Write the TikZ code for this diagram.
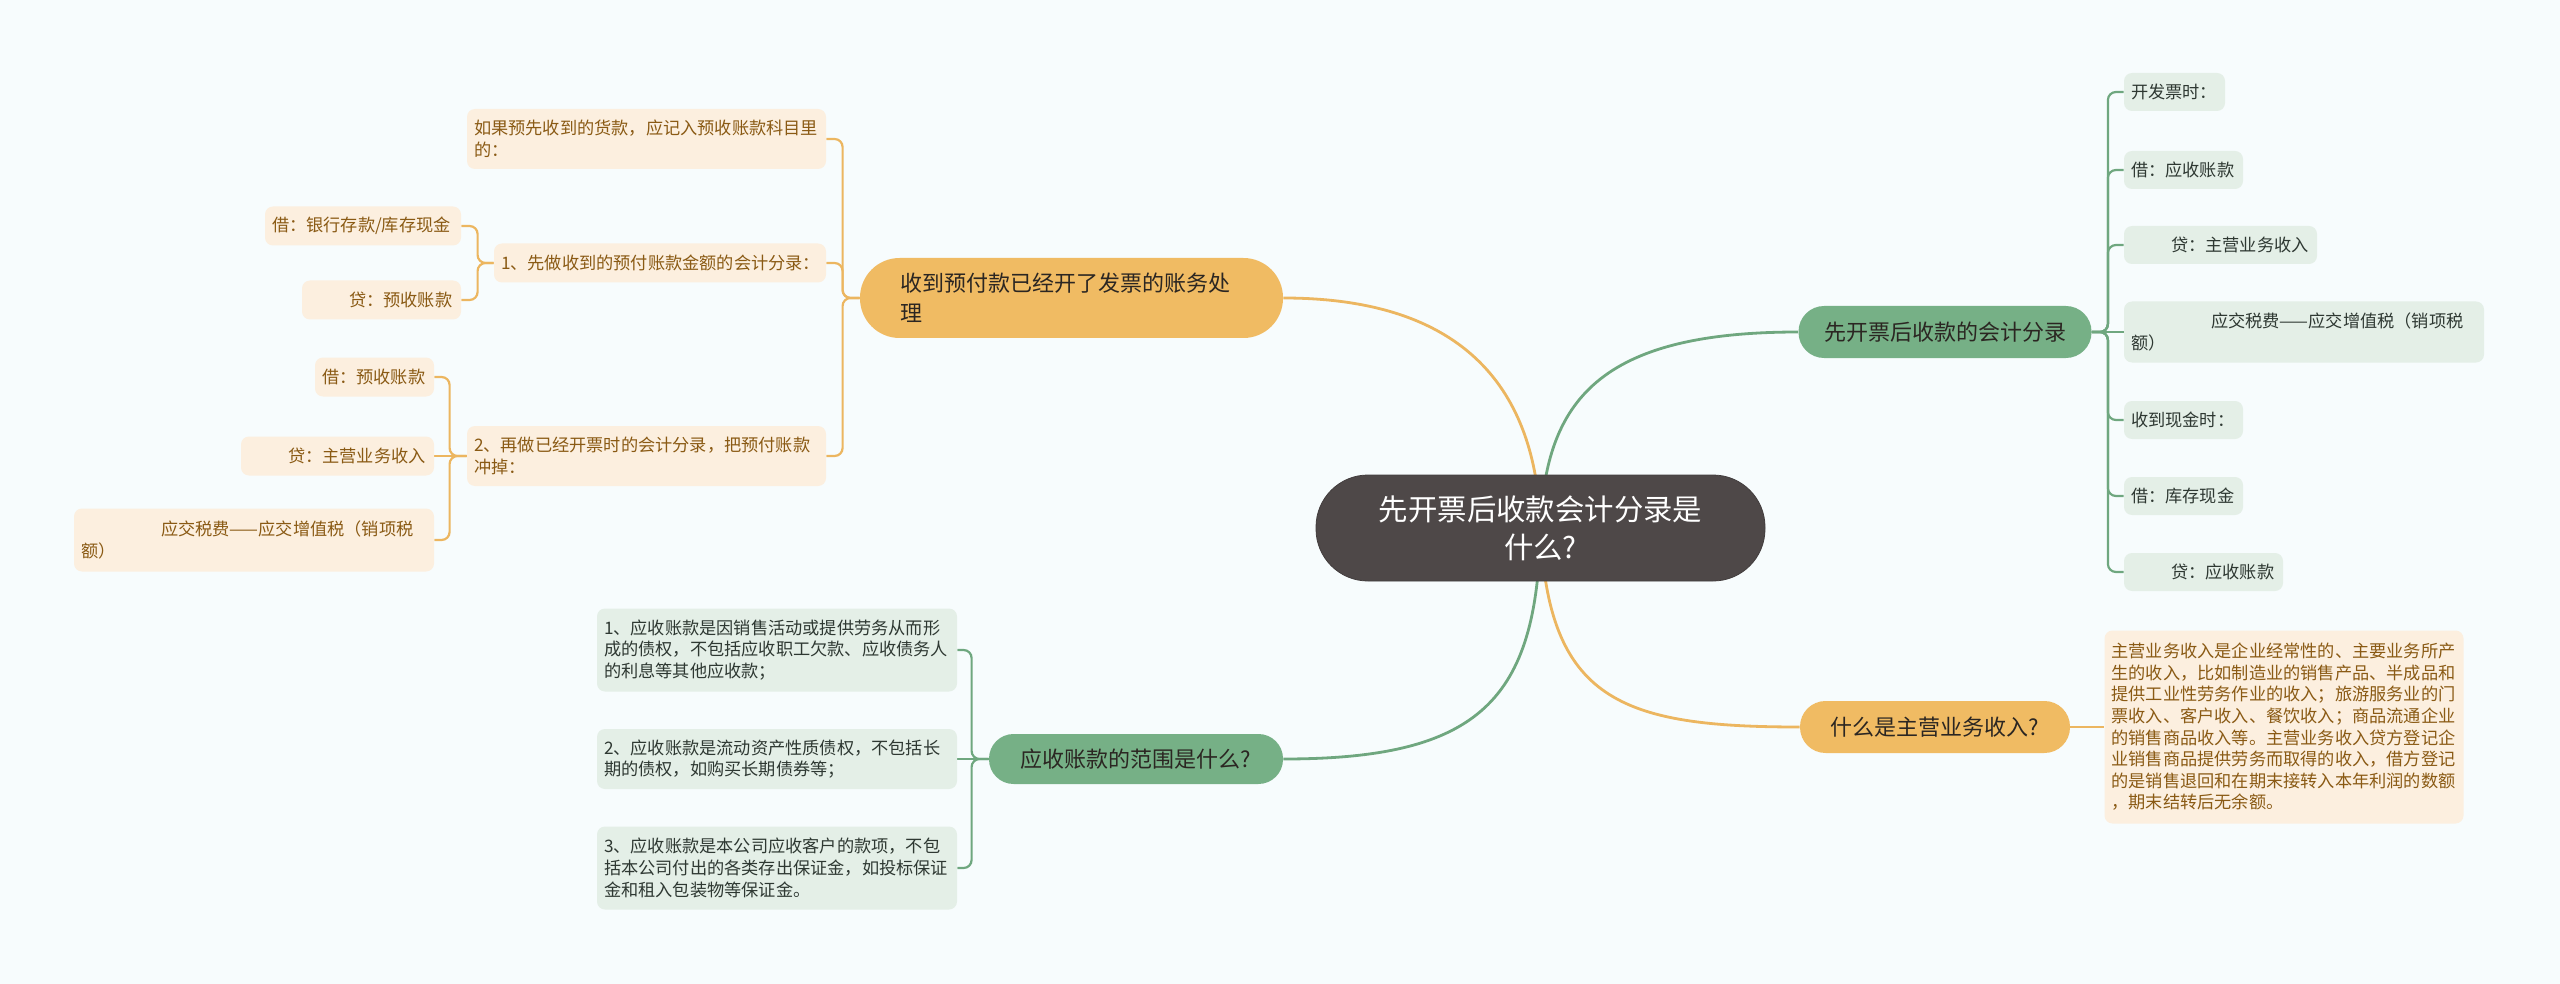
\documentclass[tikz,border=0pt]{standalone}
\usepackage{fontspec}
\setmainfont{Noto Sans CJK SC}
\definecolor{bgc}{HTML}{F7FCFD}
\definecolor{ocfill}{HTML}{FCEFDF}
\definecolor{octext}{HTML}{8A5A14}
\definecolor{gcfill}{HTML}{E4EFE7}
\definecolor{gctext}{HTML}{2E3832}
\definecolor{obfill}{HTML}{F0BB63}
\definecolor{gbfill}{HTML}{76B086}
\definecolor{btext}{HTML}{2B2622}
\definecolor{ctrfill}{HTML}{4E4848}
\definecolor{olc}{HTML}{ECB660}
\definecolor{glc}{HTML}{6FA77F}
\pgfdeclarelayer{bg}
\pgfsetlayers{bg,main}
\tikzset{
  leaf/.style={rectangle, rounded corners=4pt, inner xsep=3.5pt, inner ysep=0pt,
    align=left, font=\fontsize{8.6}{10.8}\selectfont, anchor=center},
  oleaf/.style={leaf, fill=ocfill, text=octext},
  gleaf/.style={leaf, fill=gcfill, text=gctext},
  topic/.style={rectangle, inner sep=0pt, font=\fontsize{11}{15}\selectfont, align=center, text=btext},
  obranch/.style={topic, fill=obfill},
  gbranch/.style={topic, fill=gbfill},
  mainline/.style={line width=1.4pt},
  subline/.style={line width=1.1pt, rounded corners=4pt},
}
\begin{document}
\begin{tikzpicture}[x=0.5pt,y=-0.5pt]
\useasboundingbox (0,0) rectangle (2560,984);

% central topic
\node[rectangle, fill=ctrfill, draw=ctrfill!85!black, line width=0.4pt, rounded corners=26pt,
  minimum width=224.5pt, minimum height=53pt, inner sep=0pt, text width=200pt, align=center,
  text=white, font=\fontsize{14.7}{19}\selectfont] (ctr) at (1540.5,528)
  {先开票后收款会计分录是\\什么?};

% main branches
\node[obranch, minimum width=211.5pt, minimum height=40pt, rounded corners=19.8pt,
  text width=171.5pt, align=left] (b1) at (1071.5,298)
  {收到预付款已经开了发票的账务处\\理};
\node[gbranch, minimum width=146.5pt, minimum height=26pt, rounded corners=12.8pt] (b2) at (1945,332)
  {先开票后收款的会计分录};
\node[obranch, minimum width=135pt, minimum height=26pt, rounded corners=12.8pt] (b3) at (1935,727)
  {什么是主营业务收入?};
\node[gbranch, minimum width=147pt, minimum height=25pt, rounded corners=12.3pt] (b4) at (1136,759)
  {应收账款的范围是什么?};

% branch 1 children
\node[oleaf, text width=172.5pt, minimum height=30pt] (c1a) at (646.5,139)
  {如果预先收到的货款，应记入预收账款科目里\\的：};
\node[oleaf, text width=159pt, minimum height=19.5pt] (c1b) at (660,263)
  {1、先做收到的预付账款金额的会计分录：};
\node[oleaf, text width=172.5pt, minimum height=30pt] (c1c) at (646.5,456)
  {2、再做已经开票时的会计分录，把预付账款\\冲掉：};
\node[oleaf, text width=91pt, minimum height=19.5pt] (c1b1) at (363,226)
  {借：银行存款/库存现金};
\node[oleaf, text width=72.5pt, minimum height=19.5pt] (c1b2) at (381.5,300)
  {\hspace*{20pt}贷：预收账款};
\node[oleaf, text width=52.5pt, minimum height=19.5pt] (c1c1) at (374.5,377)
  {借：预收账款};
\node[oleaf, text width=89.5pt, minimum height=19.5pt] (c1c2) at (337.5,456)
  {\hspace*{20pt}贷：主营业务收入};
\node[oleaf, text width=173pt, minimum height=31.5pt] (c1c3) at (254,540)
  {\hspace*{40pt}应交税费——应交增值税（销项税\\额）};

% branch 2 children
\node[gleaf, text width=43.5pt, minimum height=19pt] (g1) at (2174.5,92) {开发票时：};
\node[gleaf, text width=52.5pt, minimum height=19pt] (g2) at (2183.5,170) {借：应收账款};
\node[gleaf, text width=89.5pt, minimum height=19pt] (g3) at (2220.5,245) {\hspace*{20pt}贷：主营业务收入};
\node[gleaf, text width=173pt, minimum height=30.5pt] (g4) at (2304,332)
  {\hspace*{40pt}应交税费——应交增值税（销项税\\额）};
\node[gleaf, text width=52.5pt, minimum height=19pt] (g5) at (2183.5,420) {收到现金时：};
\node[gleaf, text width=52.5pt, minimum height=19pt] (g6) at (2183.5,496) {借：库存现金};
\node[gleaf, text width=72.5pt, minimum height=19pt] (g7) at (2203.5,572) {\hspace*{20pt}贷：应收账款};

% branch 3 child
\node[oleaf, text width=172.5pt, minimum height=96.5pt] (c3) at (2284,727)
  {主营业务收入是企业经常性的、主要业务所产\\生的收入，比如制造业的销售产品、半成品和\\提供工业性劳务作业的收入；旅游服务业的门\\票收入、客户收入、餐饮收入；商品流通企业\\的销售商品收入等。主营业务收入贷方登记企\\业销售商品提供劳务而取得的收入，借方登记\\的是销售退回和在期末接转入本年利润的数额\\，期末结转后无余额。};

% branch 4 children
\node[gleaf, text width=173pt, minimum height=41.5pt] (d1) at (777,650)
  {1、应收账款是因销售活动或提供劳务从而形\\成的债权，不包括应收职工欠款、应收债务人\\的利息等其他应收款；};
\node[gleaf, text width=173pt, minimum height=30pt] (d2) at (777,759)
  {2、应收账款是流动资产性质债权，不包括长\\期的债权，如购买长期债券等；};
\node[gleaf, text width=173pt, minimum height=41.5pt] (d3) at (777,868)
  {3、应收账款是本公司应收客户的款项，不包\\括本公司付出的各类存出保证金，如投标保证\\金和租入包装物等保证金。};

\begin{pgfonlayer}{bg}
\fill[bgc] (0,0) rectangle (2560,984);
% main curves
\draw[mainline, olc] (ctr.center) .. controls (1537,400) and (1475,298) .. (b1.east);
\draw[mainline, glc] (ctr.center) .. controls (1545,400) and (1600,332) .. (b2.west);
\draw[mainline, glc] (ctr.center) .. controls (1537,700) and (1480,759) .. (b4.east);
\draw[mainline, olc] (ctr.center) .. controls (1548,700) and (1620,727) .. (b3.west);
% branch 1
\draw[subline, olc] (b1.west) -- ++(-17,0) |- (c1a.east);
\draw[subline, olc] (b1.west) -- ++(-17,0) |- (c1b.east);
\draw[subline, olc] (b1.west) -- ++(-17,0) |- (c1c.east);
\draw[subline, olc] (c1b.west) -- ++(-16,0) |- (c1b1.east);
\draw[subline, olc] (c1b.west) -- ++(-16,0) |- (c1b2.east);
\draw[subline, olc] (c1c.west) -- ++(-17,0) |- (c1c1.east);
\draw[subline, olc] (c1c.west) -- (c1c2.east);
\draw[subline, olc] (c1c.west) -- ++(-17,0) |- (c1c3.east);
% branch 2
\foreach \g in {g1,g2,g3,g5,g6,g7}{
  \draw[subline, glc] (b2.east) -- ++(16,0) |- (\g.west);
}
\draw[subline, glc] (b2.east) -- (g4.west);
% branch 3
\draw[subline, olc] (b3.east) -- (c3.west);
% branch 4
\draw[subline, glc] (b4.west) -- ++(-17,0) |- (d1.east);
\draw[subline, glc] (b4.west) -- (d2.east);
\draw[subline, glc] (b4.west) -- ++(-17,0) |- (d3.east);
\end{pgfonlayer}
\end{tikzpicture}
\end{document}
